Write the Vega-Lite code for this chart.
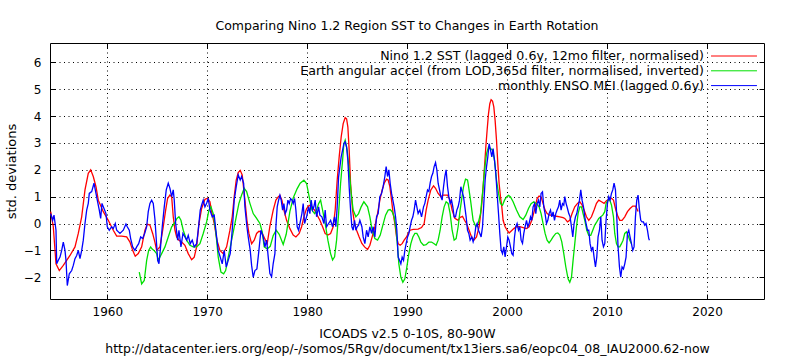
{
"$schema": "https://vega.github.io/schema/vega-lite/v6.json",
"width": 714, "height": 256,
"autosize": {"type": "none"},
"padding": {"left": 50, "top": 43, "right": 25, "bottom": 58},
"background": "white",
"title": {"text": "Comparing Nino 1.2 Region SST to Changes in Earth Rotation", "fontSize": 12.5, "fontWeight": "normal", "font": "DejaVu Sans", "color": "black", "offset": 10, "anchor": "middle"},
"config": {
  "view": {"stroke": "black", "strokeWidth": 1},
  "font": "DejaVu Sans",
  "legend": {"orient": "none", "legendX": 677.7, "legendY": 6.7, "title": null, "symbolType": "M-8,0H8", "symbolSize": 33, "symbolStrokeWidth": 1, "symbolOffset": 0, "labelAlign": "right", "labelOffset": -36.3, "labelFontSize": 12.6, "labelFont": "DejaVu Sans", "labelColor": "black", "labelLimit": 0, "rowPadding": 1.8, "padding": 0}
},
"datasets": {
"sst": [
{"year":1954.34,"value":0.44},{"year":1954.6,"value":-0.12},{"year":1954.87,"value":-1.5},{"year":1955.2,"value":-1.75},{"year":1955.6,"value":-1.56},{"year":1956.27,"value":-1.19},{"year":1956.77,"value":-0.87},{"year":1957.1,"value":-0.37},{"year":1957.44,"value":0.25},{"year":1957.77,"value":1.25},{"year":1958.1,"value":1.87},{"year":1958.34,"value":2.0},{"year":1958.6,"value":1.75},{"year":1958.87,"value":1.37},{"year":1959.1,"value":0.87},{"year":1959.6,"value":0.44},{"year":1960.1,"value":0.12},{"year":1960.6,"value":-0.25},{"year":1960.94,"value":-0.47},{"year":1961.44,"value":-0.47},{"year":1961.94,"value":-0.5},{"year":1962.27,"value":-0.69},{"year":1962.54,"value":-1.0},{"year":1962.8,"value":-1.22},{"year":1963.1,"value":-1.12},{"year":1963.44,"value":-0.87},{"year":1963.77,"value":-0.25},{"year":1964.0,"value":-0.02},{"year":1964.27,"value":-0.06},{"year":1964.54,"value":-0.37},{"year":1964.77,"value":-0.7},{"year":1964.94,"value":-1.0},{"year":1965.27,"value":-0.87},{"year":1965.6,"value":-0.12},{"year":1965.84,"value":0.5},{"year":1966.04,"value":0.94},{"year":1966.27,"value":1.06},{"year":1966.44,"value":1.0},{"year":1966.6,"value":0.25},{"year":1966.77,"value":-0.25},{"year":1966.94,"value":-0.5},{"year":1967.17,"value":-0.62},{"year":1967.44,"value":-0.69},{"year":1967.77,"value":-0.81},{"year":1968.1,"value":-1.12},{"year":1968.44,"value":-1.35},{"year":1968.7,"value":-1.25},{"year":1968.94,"value":-0.87},{"year":1969.17,"value":0.0},{"year":1969.44,"value":0.56},{"year":1969.77,"value":0.9},{"year":1970.04,"value":0.94},{"year":1970.27,"value":0.81},{"year":1970.44,"value":0.44},{"year":1970.7,"value":0.0},{"year":1970.97,"value":-0.62},{"year":1971.27,"value":-1.0},{"year":1971.6,"value":-1.12},{"year":1971.94,"value":-0.87},{"year":1972.27,"value":-0.25},{"year":1972.5,"value":0.25},{"year":1972.7,"value":1.0},{"year":1972.9,"value":1.62},{"year":1973.1,"value":1.9},{"year":1973.3,"value":1.98},{"year":1973.5,"value":1.81},{"year":1973.77,"value":0.87},{"year":1973.97,"value":0.12},{"year":1974.17,"value":-0.37},{"year":1974.44,"value":-0.75},{"year":1974.7,"value":-0.62},{"year":1974.94,"value":-0.37},{"year":1975.17,"value":-0.29},{"year":1975.44,"value":-0.31},{"year":1975.7,"value":-0.52},{"year":1976.0,"value":-0.75},{"year":1976.27,"value":-0.1},{"year":1976.6,"value":0.5},{"year":1976.87,"value":0.87},{"year":1977.1,"value":0.99},{"year":1977.27,"value":1.05},{"year":1977.47,"value":0.87},{"year":1977.67,"value":0.5},{"year":1977.94,"value":0.12},{"year":1978.27,"value":-0.19},{"year":1978.6,"value":-0.43},{"year":1978.87,"value":-0.5},{"year":1979.2,"value":-0.37},{"year":1979.44,"value":-0.12},{"year":1979.67,"value":0.25},{"year":1979.94,"value":0.56},{"year":1980.2,"value":0.68},{"year":1980.47,"value":0.62},{"year":1980.74,"value":0.5},{"year":1981.0,"value":0.31},{"year":1981.27,"value":0.12},{"year":1981.54,"value":-0.12},{"year":1981.8,"value":-0.37},{"year":1982.07,"value":-0.43},{"year":1982.34,"value":-0.37},{"year":1982.6,"value":-0.12},{"year":1982.8,"value":0.5},{"year":1983.0,"value":1.61},{"year":1983.2,"value":2.48},{"year":1983.4,"value":3.22},{"year":1983.6,"value":3.72},{"year":1983.8,"value":3.94},{"year":1983.94,"value":3.9},{"year":1984.07,"value":3.59},{"year":1984.2,"value":2.73},{"year":1984.34,"value":1.49},{"year":1984.54,"value":0.5},{"year":1984.74,"value":0.0},{"year":1984.94,"value":-0.25},{"year":1985.2,"value":-0.5},{"year":1985.47,"value":-0.74},{"year":1985.74,"value":-0.87},{"year":1986.04,"value":-0.97},{"year":1986.27,"value":-0.81},{"year":1986.5,"value":-0.5},{"year":1986.77,"value":-0.12},{"year":1987.04,"value":0.37},{"year":1987.27,"value":0.87},{"year":1987.5,"value":1.25},{"year":1987.7,"value":1.5},{"year":1987.94,"value":1.65},{"year":1988.1,"value":1.62},{"year":1988.27,"value":1.37},{"year":1988.44,"value":0.87},{"year":1988.6,"value":0.37},{"year":1988.77,"value":0.0},{"year":1988.94,"value":-0.5},{"year":1989.1,"value":-0.75},{"year":1989.3,"value":-0.81},{"year":1989.5,"value":-0.75},{"year":1989.7,"value":-0.62},{"year":1989.94,"value":-0.5},{"year":1990.1,"value":-0.37},{"year":1990.3,"value":-0.25},{"year":1990.6,"value":-0.22},{"year":1991.1,"value":-0.21},{"year":1991.44,"value":-0.15},{"year":1991.7,"value":0.0},{"year":1991.9,"value":0.5},{"year":1992.1,"value":0.87},{"year":1992.37,"value":1.25},{"year":1992.64,"value":1.4},{"year":1992.84,"value":1.31},{"year":1993.1,"value":1.12},{"year":1993.37,"value":1.0},{"year":1993.64,"value":1.06},{"year":1994.04,"value":1.06},{"year":1994.3,"value":0.87},{"year":1994.5,"value":0.5},{"year":1994.77,"value":0.19},{"year":1995.1,"value":0.12},{"year":1995.27,"value":0.22},{"year":1995.54,"value":0.27},{"year":1995.74,"value":0.12},{"year":1995.94,"value":0.0},{"year":1996.2,"value":-0.25},{"year":1996.44,"value":-0.5},{"year":1996.67,"value":-0.62},{"year":1996.94,"value":-0.5},{"year":1997.2,"value":-0.12},{"year":1997.44,"value":0.62},{"year":1997.6,"value":1.36},{"year":1997.74,"value":2.11},{"year":1997.87,"value":2.85},{"year":1998.0,"value":3.47},{"year":1998.14,"value":4.09},{"year":1998.27,"value":4.46},{"year":1998.4,"value":4.61},{"year":1998.54,"value":4.56},{"year":1998.67,"value":4.34},{"year":1998.8,"value":3.84},{"year":1998.94,"value":3.1},{"year":1999.07,"value":2.23},{"year":1999.2,"value":1.49},{"year":1999.34,"value":0.99},{"year":1999.47,"value":0.62},{"year":1999.6,"value":0.12},{"year":1999.8,"value":-0.12},{"year":2000.0,"value":-0.25},{"year":2000.2,"value":-0.35},{"year":2000.44,"value":-0.27},{"year":2000.67,"value":-0.19},{"year":2000.94,"value":-0.12},{"year":2001.27,"value":-0.12},{"year":2001.6,"value":-0.15},{"year":2001.94,"value":-0.19},{"year":2002.2,"value":-0.12},{"year":2002.47,"value":0.12},{"year":2002.74,"value":0.5},{"year":2003.0,"value":0.93},{"year":2003.2,"value":1.02},{"year":2003.4,"value":0.99},{"year":2003.6,"value":0.74},{"year":2003.8,"value":0.5},{"year":2004.0,"value":0.37},{"year":2004.27,"value":0.31},{"year":2004.6,"value":0.31},{"year":2004.94,"value":0.27},{"year":2005.27,"value":0.25},{"year":2005.6,"value":0.22},{"year":2005.77,"value":0.19},{"year":2006.04,"value":0.06},{"year":2006.27,"value":0.12},{"year":2006.5,"value":0.37},{"year":2006.77,"value":0.62},{"year":2007.04,"value":0.75},{"year":2007.27,"value":0.81},{"year":2007.5,"value":0.69},{"year":2007.7,"value":0.5},{"year":2007.94,"value":0.25},{"year":2008.17,"value":0.12},{"year":2008.44,"value":0.25},{"year":2008.7,"value":0.5},{"year":2008.94,"value":0.75},{"year":2009.17,"value":0.87},{"year":2009.44,"value":0.81},{"year":2009.7,"value":0.75},{"year":2009.94,"value":0.85},{"year":2010.17,"value":0.9},{"year":2010.44,"value":0.94},{"year":2010.64,"value":0.87},{"year":2010.84,"value":0.56},{"year":2011.04,"value":0.31},{"year":2011.27,"value":0.12},{"year":2011.5,"value":0.12},{"year":2011.77,"value":0.25},{"year":2012.04,"value":0.44},{"year":2012.3,"value":0.56},{"year":2012.57,"value":0.65},{"year":2012.84,"value":0.65},{"year":2012.97,"value":0.56},{"year":2013.1,"value":0.45}
],
"lod": [
{"year":1963.2,"value":-1.81},{"year":1963.44,"value":-2.25},{"year":1963.7,"value":-2.12},{"year":1963.94,"value":-1.37},{"year":1964.14,"value":-1.0},{"year":1964.34,"value":-0.87},{"year":1964.47,"value":-0.94},{"year":1964.67,"value":-1.0},{"year":1964.94,"value":-1.12},{"year":1965.1,"value":-1.37},{"year":1965.44,"value":-1.12},{"year":1965.77,"value":-0.87},{"year":1966.1,"value":-0.5},{"year":1966.44,"value":-0.12},{"year":1966.7,"value":0.0},{"year":1966.97,"value":0.19},{"year":1967.17,"value":0.25},{"year":1967.37,"value":0.12},{"year":1967.6,"value":-0.25},{"year":1967.94,"value":-0.62},{"year":1968.27,"value":-0.81},{"year":1968.6,"value":-0.87},{"year":1968.94,"value":-0.87},{"year":1969.27,"value":-0.75},{"year":1969.6,"value":-0.37},{"year":1969.94,"value":0.06},{"year":1970.17,"value":0.5},{"year":1970.37,"value":0.62},{"year":1970.6,"value":0.37},{"year":1970.84,"value":-0.25},{"year":1971.1,"value":-1.25},{"year":1971.37,"value":-1.81},{"year":1971.64,"value":-1.87},{"year":1971.84,"value":-1.75},{"year":1972.1,"value":-1.25},{"year":1972.37,"value":-0.75},{"year":1972.64,"value":-0.25},{"year":1972.9,"value":0.25},{"year":1973.17,"value":0.75},{"year":1973.44,"value":1.06},{"year":1973.7,"value":1.31},{"year":1973.94,"value":1.19},{"year":1974.27,"value":0.75},{"year":1974.6,"value":0.37},{"year":1974.94,"value":0.19},{"year":1975.27,"value":0.0},{"year":1975.5,"value":-0.31},{"year":1975.7,"value":-0.87},{"year":1976.0,"value":-0.95},{"year":1976.3,"value":-0.85},{"year":1976.6,"value":-0.45},{"year":1976.9,"value":-0.25},{"year":1977.2,"value":-0.4},{"year":1977.6,"value":-0.78},{"year":1977.9,"value":-0.4},{"year":1978.27,"value":0.45},{"year":1978.6,"value":0.95},{"year":1979.0,"value":1.3},{"year":1979.3,"value":1.5},{"year":1979.67,"value":1.61},{"year":1979.94,"value":1.49},{"year":1980.2,"value":0.99},{"year":1980.47,"value":0.5},{"year":1980.74,"value":0.37},{"year":1980.94,"value":0.5},{"year":1981.14,"value":0.74},{"year":1981.34,"value":0.87},{"year":1981.54,"value":0.5},{"year":1981.8,"value":0.0},{"year":1982.07,"value":-0.62},{"year":1982.34,"value":-1.12},{"year":1982.54,"value":-1.36},{"year":1982.74,"value":-1.24},{"year":1982.94,"value":-0.62},{"year":1983.14,"value":0.37},{"year":1983.34,"value":1.49},{"year":1983.54,"value":2.35},{"year":1983.67,"value":2.97},{"year":1983.8,"value":3.1},{"year":1984.0,"value":2.73},{"year":1984.2,"value":1.98},{"year":1984.4,"value":1.12},{"year":1984.6,"value":0.5},{"year":1984.87,"value":0.25},{"year":1985.14,"value":0.37},{"year":1985.4,"value":0.62},{"year":1985.67,"value":0.81},{"year":1986.04,"value":0.62},{"year":1986.27,"value":0.25},{"year":1986.5,"value":-0.25},{"year":1986.77,"value":-0.56},{"year":1987.04,"value":-0.62},{"year":1987.3,"value":-0.44},{"year":1987.57,"value":-0.06},{"year":1987.84,"value":0.31},{"year":1988.1,"value":0.5},{"year":1988.3,"value":0.52},{"year":1988.5,"value":0.44},{"year":1988.7,"value":0.25},{"year":1988.9,"value":-0.25},{"year":1989.04,"value":-0.87},{"year":1989.17,"value":-1.5},{"year":1989.37,"value":-2.0},{"year":1989.57,"value":-2.19},{"year":1989.77,"value":-2.06},{"year":1989.97,"value":-1.62},{"year":1990.17,"value":-1.12},{"year":1990.37,"value":-0.75},{"year":1990.57,"value":-0.5},{"year":1990.77,"value":-0.37},{"year":1990.97,"value":-0.37},{"year":1991.17,"value":-0.5},{"year":1991.37,"value":-0.69},{"year":1991.64,"value":-0.81},{"year":1991.9,"value":-0.79},{"year":1992.17,"value":-0.69},{"year":1992.44,"value":-0.69},{"year":1992.7,"value":-0.75},{"year":1992.9,"value":-0.81},{"year":1993.1,"value":-0.62},{"year":1993.3,"value":-0.25},{"year":1993.5,"value":0.25},{"year":1993.7,"value":0.62},{"year":1993.9,"value":0.81},{"year":1994.1,"value":0.75},{"year":1994.3,"value":0.37},{"year":1994.5,"value":-0.25},{"year":1994.7,"value":-0.62},{"year":1994.9,"value":-0.56},{"year":1995.1,"value":-0.12},{"year":1995.3,"value":0.5},{"year":1995.44,"value":0.87},{"year":1995.64,"value":1.37},{"year":1995.84,"value":1.65},{"year":1996.04,"value":1.62},{"year":1996.1,"value":1.49},{"year":1996.34,"value":0.87},{"year":1996.6,"value":0.12},{"year":1996.87,"value":-0.12},{"year":1997.1,"value":0.0},{"year":1997.34,"value":0.37},{"year":1997.54,"value":1.12},{"year":1997.74,"value":1.98},{"year":1997.94,"value":2.6},{"year":1998.14,"value":2.85},{"year":1998.34,"value":2.79},{"year":1998.54,"value":2.73},{"year":1998.74,"value":2.35},{"year":1998.94,"value":1.61},{"year":1999.14,"value":1.12},{"year":1999.34,"value":0.74},{"year":1999.54,"value":0.68},{"year":1999.74,"value":0.87},{"year":1999.94,"value":0.99},{"year":2000.14,"value":1.05},{"year":2000.34,"value":0.99},{"year":2000.6,"value":0.81},{"year":2000.94,"value":0.5},{"year":2001.27,"value":0.25},{"year":2001.6,"value":0.15},{"year":2001.87,"value":0.31},{"year":2002.14,"value":0.56},{"year":2002.4,"value":0.74},{"year":2002.67,"value":0.81},{"year":2002.94,"value":0.74},{"year":2003.2,"value":0.62},{"year":2003.4,"value":0.37},{"year":2003.6,"value":0.0},{"year":2003.8,"value":-0.37},{"year":2004.0,"value":-0.62},{"year":2004.2,"value":-0.72},{"year":2004.4,"value":-0.62},{"year":2004.6,"value":-0.5},{"year":2004.87,"value":-0.37},{"year":2005.07,"value":-0.35},{"year":2005.27,"value":-0.43},{"year":2005.47,"value":-0.68},{"year":2005.67,"value":-1.12},{"year":2005.87,"value":-1.61},{"year":2006.1,"value":-2.06},{"year":2006.27,"value":-2.19},{"year":2006.44,"value":-2.0},{"year":2006.6,"value":-1.37},{"year":2006.77,"value":-0.75},{"year":2006.94,"value":-0.12},{"year":2007.1,"value":0.37},{"year":2007.27,"value":0.62},{"year":2007.44,"value":0.62},{"year":2007.6,"value":0.37},{"year":2007.77,"value":0.12},{"year":2007.97,"value":-0.25},{"year":2008.17,"value":-0.44},{"year":2008.37,"value":-0.44},{"year":2008.57,"value":-0.25},{"year":2008.77,"value":-0.06},{"year":2008.97,"value":0.06},{"year":2009.17,"value":0.19},{"year":2009.37,"value":0.25},{"year":2009.57,"value":0.31},{"year":2009.77,"value":0.44},{"year":2009.9,"value":0.75},{"year":2010.1,"value":0.87},{"year":2010.27,"value":0.87},{"year":2010.44,"value":0.69},{"year":2010.64,"value":0.25},{"year":2010.77,"value":-0.37},{"year":2010.94,"value":-0.75},{"year":2011.1,"value":-0.87},{"year":2011.27,"value":-0.87},{"year":2011.44,"value":-0.75},{"year":2011.6,"value":-0.62},{"year":2011.77,"value":-0.37},{"year":2011.94,"value":-0.31},{"year":2012.1,"value":-0.44},{"year":2012.27,"value":-0.62},{"year":2012.44,"value":-0.75}
],
"mei": [
{"year":1954.34,"value":0.37},{"year":1954.54,"value":0.12},{"year":1954.67,"value":0.31},{"year":1954.87,"value":-0.25},{"year":1954.94,"value":-1.5},{"year":1955.1,"value":-1.37},{"year":1955.27,"value":-1.25},{"year":1955.44,"value":-1.0},{"year":1955.6,"value":-0.69},{"year":1955.77,"value":-1.0},{"year":1955.87,"value":-1.37},{"year":1956.0,"value":-2.31},{"year":1956.2,"value":-1.87},{"year":1956.44,"value":-1.75},{"year":1956.6,"value":-1.56},{"year":1956.77,"value":-1.31},{"year":1956.94,"value":-1.19},{"year":1957.1,"value":-1.0},{"year":1957.27,"value":-1.31},{"year":1957.44,"value":-1.0},{"year":1957.6,"value":-0.62},{"year":1957.77,"value":0.0},{"year":1957.94,"value":0.5},{"year":1958.1,"value":0.75},{"year":1958.2,"value":1.12},{"year":1958.44,"value":1.19},{"year":1958.67,"value":1.5},{"year":1958.87,"value":1.12},{"year":1959.0,"value":0.87},{"year":1959.2,"value":0.5},{"year":1959.34,"value":0.19},{"year":1959.47,"value":0.75},{"year":1959.67,"value":0.56},{"year":1959.87,"value":0.37},{"year":1960.0,"value":-0.12},{"year":1960.2,"value":-0.25},{"year":1960.44,"value":-0.12},{"year":1960.6,"value":-0.19},{"year":1960.8,"value":0.0},{"year":1960.94,"value":-0.25},{"year":1961.27,"value":-0.37},{"year":1961.6,"value":-0.25},{"year":1961.87,"value":-0.02},{"year":1962.0,"value":-0.12},{"year":1962.2,"value":-0.25},{"year":1962.34,"value":-0.56},{"year":1962.54,"value":-0.87},{"year":1962.77,"value":-1.0},{"year":1962.94,"value":-0.87},{"year":1963.14,"value":-0.75},{"year":1963.34,"value":-0.5},{"year":1963.54,"value":-0.56},{"year":1963.74,"value":-0.37},{"year":1963.94,"value":-0.12},{"year":1964.1,"value":0.44},{"year":1964.27,"value":0.75},{"year":1964.44,"value":0.87},{"year":1964.6,"value":0.75},{"year":1964.77,"value":0.15},{"year":1964.94,"value":-0.8},{"year":1965.04,"value":-1.37},{"year":1965.17,"value":-1.5},{"year":1965.3,"value":-1.0},{"year":1965.5,"value":-0.12},{"year":1965.7,"value":0.62},{"year":1965.9,"value":1.25},{"year":1966.1,"value":1.5},{"year":1966.27,"value":1.31},{"year":1966.44,"value":1.0},{"year":1966.6,"value":1.25},{"year":1966.7,"value":0.87},{"year":1966.84,"value":0.0},{"year":1967.04,"value":-0.62},{"year":1967.17,"value":-0.25},{"year":1967.37,"value":-0.87},{"year":1967.57,"value":-0.37},{"year":1967.77,"value":-0.5},{"year":1967.94,"value":-0.62},{"year":1968.1,"value":-0.44},{"year":1968.3,"value":-0.75},{"year":1968.5,"value":-0.62},{"year":1968.7,"value":-0.87},{"year":1968.94,"value":-0.75},{"year":1969.1,"value":-0.25},{"year":1969.3,"value":0.5},{"year":1969.44,"value":0.69},{"year":1969.6,"value":0.87},{"year":1969.77,"value":0.62},{"year":1969.94,"value":0.75},{"year":1970.1,"value":0.94},{"year":1970.27,"value":0.5},{"year":1970.5,"value":0.25},{"year":1970.7,"value":0.31},{"year":1970.9,"value":-0.37},{"year":1971.1,"value":-1.0},{"year":1971.3,"value":-1.25},{"year":1971.5,"value":-1.5},{"year":1971.7,"value":-1.0},{"year":1971.9,"value":-1.62},{"year":1972.1,"value":-1.37},{"year":1972.3,"value":-1.12},{"year":1972.5,"value":-0.25},{"year":1972.7,"value":0.87},{"year":1972.9,"value":1.37},{"year":1973.1,"value":1.81},{"year":1973.3,"value":1.62},{"year":1973.44,"value":1.75},{"year":1973.64,"value":1.5},{"year":1973.77,"value":0.62},{"year":1973.97,"value":-0.12},{"year":1974.1,"value":-0.5},{"year":1974.3,"value":-1.0},{"year":1974.44,"value":-1.56},{"year":1974.6,"value":-2.0},{"year":1974.77,"value":-1.75},{"year":1974.97,"value":-1.69},{"year":1975.17,"value":-1.0},{"year":1975.37,"value":-0.25},{"year":1975.6,"value":-0.5},{"year":1975.77,"value":-0.87},{"year":1975.94,"value":-0.62},{"year":1976.1,"value":-1.24},{"year":1976.27,"value":-1.86},{"year":1976.44,"value":-1.98},{"year":1976.6,"value":-1.49},{"year":1976.77,"value":-1.12},{"year":1976.87,"value":-0.12},{"year":1977.0,"value":0.62},{"year":1977.14,"value":0.87},{"year":1977.27,"value":1.05},{"year":1977.4,"value":0.87},{"year":1977.54,"value":0.5},{"year":1977.67,"value":0.74},{"year":1977.8,"value":0.37},{"year":1977.94,"value":0.5},{"year":1978.07,"value":0.87},{"year":1978.2,"value":0.74},{"year":1978.34,"value":0.93},{"year":1978.47,"value":0.87},{"year":1978.6,"value":0.74},{"year":1978.74,"value":0.93},{"year":1978.87,"value":0.5},{"year":1979.0,"value":-0.12},{"year":1979.14,"value":-0.25},{"year":1979.27,"value":0.0},{"year":1979.47,"value":0.37},{"year":1979.6,"value":0.74},{"year":1979.74,"value":0.0},{"year":1979.94,"value":0.25},{"year":1980.14,"value":0.62},{"year":1980.27,"value":0.37},{"year":1980.4,"value":0.87},{"year":1980.54,"value":0.5},{"year":1980.67,"value":0.62},{"year":1980.8,"value":0.87},{"year":1980.94,"value":0.25},{"year":1981.14,"value":0.62},{"year":1981.27,"value":0.31},{"year":1981.47,"value":0.25},{"year":1981.67,"value":0.0},{"year":1981.8,"value":0.5},{"year":1981.94,"value":-0.12},{"year":1982.14,"value":0.0},{"year":1982.34,"value":0.12},{"year":1982.54,"value":-0.12},{"year":1982.74,"value":0.25},{"year":1982.87,"value":-0.12},{"year":1983.0,"value":0.62},{"year":1983.14,"value":1.73},{"year":1983.27,"value":2.11},{"year":1983.4,"value":2.48},{"year":1983.54,"value":2.73},{"year":1983.67,"value":2.97},{"year":1983.8,"value":3.04},{"year":1983.94,"value":2.85},{"year":1984.07,"value":2.35},{"year":1984.2,"value":1.36},{"year":1984.34,"value":0.5},{"year":1984.47,"value":-0.12},{"year":1984.6,"value":-0.25},{"year":1984.74,"value":0.12},{"year":1984.87,"value":-0.25},{"year":1985.0,"value":-0.12},{"year":1985.14,"value":-0.06},{"year":1985.27,"value":0.12},{"year":1985.47,"value":-0.12},{"year":1985.6,"value":-0.5},{"year":1985.77,"value":-0.75},{"year":1985.94,"value":-0.25},{"year":1986.1,"value":-0.5},{"year":1986.27,"value":-0.12},{"year":1986.44,"value":-0.37},{"year":1986.6,"value":-0.12},{"year":1986.77,"value":-0.5},{"year":1986.94,"value":0.25},{"year":1987.1,"value":0.37},{"year":1987.27,"value":1.0},{"year":1987.44,"value":1.12},{"year":1987.6,"value":1.37},{"year":1987.77,"value":1.75},{"year":1987.9,"value":2.12},{"year":1988.04,"value":1.75},{"year":1988.17,"value":2.0},{"year":1988.3,"value":1.5},{"year":1988.44,"value":1.12},{"year":1988.57,"value":0.87},{"year":1988.7,"value":0.62},{"year":1988.84,"value":0.25},{"year":1988.97,"value":-0.25},{"year":1989.1,"value":-1.25},{"year":1989.24,"value":-1.37},{"year":1989.37,"value":-1.5},{"year":1989.5,"value":-1.25},{"year":1989.64,"value":-1.37},{"year":1989.77,"value":-1.0},{"year":1989.9,"value":-0.75},{"year":1990.04,"value":-0.5},{"year":1990.17,"value":-0.37},{"year":1990.3,"value":-0.12},{"year":1990.44,"value":0.12},{"year":1990.57,"value":0.25},{"year":1990.7,"value":0.5},{"year":1990.84,"value":0.87},{"year":1990.97,"value":0.62},{"year":1991.1,"value":0.37},{"year":1991.27,"value":0.5},{"year":1991.44,"value":0.25},{"year":1991.64,"value":0.62},{"year":1991.77,"value":0.75},{"year":1991.9,"value":1.0},{"year":1992.04,"value":1.25},{"year":1992.17,"value":1.19},{"year":1992.3,"value":1.5},{"year":1992.44,"value":1.75},{"year":1992.57,"value":1.87},{"year":1992.7,"value":2.12},{"year":1992.84,"value":2.27},{"year":1992.97,"value":2.0},{"year":1993.1,"value":1.5},{"year":1993.24,"value":1.25},{"year":1993.37,"value":1.0},{"year":1993.5,"value":0.87},{"year":1993.64,"value":1.37},{"year":1993.77,"value":1.75},{"year":1993.9,"value":2.0},{"year":1994.04,"value":1.37},{"year":1994.17,"value":1.0},{"year":1994.3,"value":0.75},{"year":1994.44,"value":0.87},{"year":1994.57,"value":0.62},{"year":1994.7,"value":0.25},{"year":1994.84,"value":0.25},{"year":1994.97,"value":0.5},{"year":1995.1,"value":0.62},{"year":1995.24,"value":0.87},{"year":1995.37,"value":1.37},{"year":1995.5,"value":1.19},{"year":1995.64,"value":1.0},{"year":1995.77,"value":0.62},{"year":1995.9,"value":0.25},{"year":1996.04,"value":-0.25},{"year":1996.17,"value":-0.37},{"year":1996.3,"value":-0.62},{"year":1996.47,"value":-0.5},{"year":1996.6,"value":-0.68},{"year":1996.74,"value":-0.5},{"year":1996.87,"value":-0.12},{"year":1997.0,"value":0.0},{"year":1997.14,"value":-0.25},{"year":1997.27,"value":-0.37},{"year":1997.4,"value":-0.5},{"year":1997.54,"value":-0.12},{"year":1997.67,"value":0.74},{"year":1997.8,"value":1.61},{"year":1997.94,"value":2.11},{"year":1998.07,"value":2.48},{"year":1998.2,"value":2.97},{"year":1998.34,"value":2.73},{"year":1998.47,"value":2.48},{"year":1998.6,"value":2.79},{"year":1998.74,"value":2.35},{"year":1998.87,"value":1.86},{"year":1999.0,"value":1.12},{"year":1999.14,"value":0.37},{"year":1999.27,"value":-0.37},{"year":1999.4,"value":-0.99},{"year":1999.54,"value":-1.12},{"year":1999.67,"value":-0.87},{"year":1999.8,"value":-1.24},{"year":1999.94,"value":-0.87},{"year":2000.07,"value":-0.5},{"year":2000.2,"value":-0.62},{"year":2000.34,"value":-0.87},{"year":2000.47,"value":-1.12},{"year":2000.6,"value":-1.18},{"year":2000.74,"value":-0.5},{"year":2000.87,"value":-0.12},{"year":2001.0,"value":0.0},{"year":2001.14,"value":-0.25},{"year":2001.27,"value":-0.12},{"year":2001.4,"value":-0.62},{"year":2001.54,"value":-0.74},{"year":2001.67,"value":-0.37},{"year":2001.8,"value":-0.12},{"year":2001.94,"value":0.12},{"year":2002.07,"value":-0.12},{"year":2002.2,"value":0.0},{"year":2002.34,"value":0.25},{"year":2002.47,"value":0.12},{"year":2002.6,"value":0.62},{"year":2002.74,"value":0.74},{"year":2002.87,"value":0.37},{"year":2003.0,"value":0.74},{"year":2003.14,"value":0.87},{"year":2003.27,"value":0.62},{"year":2003.4,"value":1.12},{"year":2003.54,"value":1.18},{"year":2003.67,"value":0.62},{"year":2003.8,"value":0.37},{"year":2003.94,"value":0.0},{"year":2004.07,"value":0.12},{"year":2004.2,"value":0.37},{"year":2004.34,"value":0.5},{"year":2004.47,"value":0.25},{"year":2004.6,"value":0.43},{"year":2004.74,"value":0.12},{"year":2004.87,"value":0.37},{"year":2005.0,"value":0.5},{"year":2005.14,"value":0.62},{"year":2005.27,"value":0.87},{"year":2005.4,"value":0.5},{"year":2005.54,"value":0.74},{"year":2005.67,"value":0.68},{"year":2005.77,"value":1.0},{"year":2005.9,"value":0.75},{"year":2006.04,"value":0.56},{"year":2006.17,"value":0.37},{"year":2006.3,"value":0.25},{"year":2006.44,"value":-0.12},{"year":2006.57,"value":-0.5},{"year":2006.7,"value":0.0},{"year":2006.84,"value":0.25},{"year":2006.97,"value":0.37},{"year":2007.1,"value":0.62},{"year":2007.24,"value":0.87},{"year":2007.37,"value":1.25},{"year":2007.5,"value":0.87},{"year":2007.64,"value":0.62},{"year":2007.77,"value":0.25},{"year":2007.9,"value":0.0},{"year":2008.04,"value":-0.25},{"year":2008.17,"value":-0.25},{"year":2008.3,"value":-0.75},{"year":2008.44,"value":-1.0},{"year":2008.57,"value":-0.87},{"year":2008.7,"value":-1.25},{"year":2008.84,"value":-1.62},{"year":2008.97,"value":-1.25},{"year":2009.1,"value":-0.5},{"year":2009.24,"value":-0.25},{"year":2009.37,"value":0.25},{"year":2009.5,"value":-0.62},{"year":2009.64,"value":-0.87},{"year":2009.77,"value":-0.75},{"year":2009.9,"value":0.12},{"year":2010.04,"value":0.75},{"year":2010.17,"value":1.0},{"year":2010.3,"value":0.87},{"year":2010.44,"value":1.12},{"year":2010.57,"value":1.25},{"year":2010.7,"value":1.5},{"year":2010.84,"value":1.25},{"year":2010.97,"value":0.25},{"year":2011.1,"value":-0.87},{"year":2011.24,"value":-1.62},{"year":2011.37,"value":-2.0},{"year":2011.5,"value":-1.62},{"year":2011.64,"value":-1.69},{"year":2011.77,"value":-1.5},{"year":2011.9,"value":-1.25},{"year":2012.04,"value":-0.37},{"year":2012.17,"value":-0.25},{"year":2012.3,"value":-0.5},{"year":2012.44,"value":-0.75},{"year":2012.57,"value":-1.0},{"year":2012.7,"value":-0.87},{"year":2012.84,"value":0.25},{"year":2012.97,"value":0.87},{"year":2013.1,"value":1.06},{"year":2013.24,"value":0.5},{"year":2013.37,"value":0.12},{"year":2013.5,"value":0.06},{"year":2013.64,"value":0.06},{"year":2013.77,"value":-0.06},{"year":2013.9,"value":0.0},{"year":2014.04,"value":-0.25},{"year":2014.17,"value":-0.56},{"year":2014.24,"value":-0.62}
]
},
"layer": [
{
  "data": {"name": "sst"},
  "mark": {"type": "line", "strokeWidth": 1.3},
  "encoding": {
    "x": {"field": "year", "type": "quantitative", "scale": {"domain": [1954.27, 2025.7], "nice": false, "zero": false},
      "axis": {"orient": "bottom", "values": [1960, 1970, 1980, 1990, 2000, 2010, 2020], "format": "d", "grid": true, "gridDash": [1, 3.5], "gridColor": "black", "gridOpacity": 1, "domain": false, "tickSize": -5, "tickColor": "black", "labelPadding": 12, "labelFontSize": 12, "labelColor": "black", "labelFont": "DejaVu Sans", "title": ["ICOADS v2.5 0-10S, 80-90W", "http://datacenter.iers.org/eop/-/somos/5Rgv/document/tx13iers.sa6/eopc04_08_IAU2000.62-now"], "titleFontSize": 12.5, "titleFontWeight": "normal", "titleColor": "black", "titleFont": "DejaVu Sans", "titlePadding": 10, "titleLineHeight": 15}},
    "y": {"field": "value", "type": "quantitative", "scale": {"domain": [-2.81, 6.72], "nice": false, "zero": false},
      "axis": {"orient": "left", "values": [-2, -1, 0, 1, 2, 3, 4, 5, 6], "grid": true, "gridDash": [1, 3.5], "gridColor": "black", "gridOpacity": 1, "domain": false, "tickSize": -5, "tickColor": "black", "labelPadding": 14, "labelFontSize": 12, "labelColor": "black", "labelFont": "DejaVu Sans", "title": "std. deviations", "titleFontSize": 13, "titleFontWeight": "normal", "titleColor": "black", "titleFont": "DejaVu Sans", "titlePadding": 5}},
    "color": {"datum": "Nino 1.2 SST (lagged 0.6y, 12mo filter, normalised)", "type": "nominal",
      "scale": {"domain": ["Nino 1.2 SST (lagged 0.6y, 12mo filter, normalised)", "Earth angular accel (from LOD,365d filter, normalised, inverted)", "monthly ENSO MEI (lagged 0.6y)"], "range": ["#ff0000", "#00e000", "#0000ff"]}}
  }
},
{
  "data": {"name": "lod"},
  "mark": {"type": "line", "strokeWidth": 1.3},
  "encoding": {
    "x": {"field": "year", "type": "quantitative", "axis": {"orient": "top", "values": [1960, 1970, 1980, 1990, 2000, 2010, 2020], "labels": false, "grid": false, "domain": false, "tickSize": -5, "tickColor": "black", "title": null}},
    "y": {"field": "value", "type": "quantitative", "axis": {"orient": "right", "values": [-2, -1, 0, 1, 2, 3, 4, 5, 6], "labels": false, "grid": false, "domain": false, "tickSize": -5, "tickColor": "black", "title": null}},
    "color": {"datum": "Earth angular accel (from LOD,365d filter, normalised, inverted)", "type": "nominal"}
  }
},
{
  "data": {"name": "mei"},
  "mark": {"type": "line", "strokeWidth": 1.3},
  "encoding": {
    "x": {"field": "year", "type": "quantitative", "axis": null},
    "y": {"field": "value", "type": "quantitative", "axis": null},
    "color": {"datum": "monthly ENSO MEI (lagged 0.6y)", "type": "nominal"}
  }
}
]
}
